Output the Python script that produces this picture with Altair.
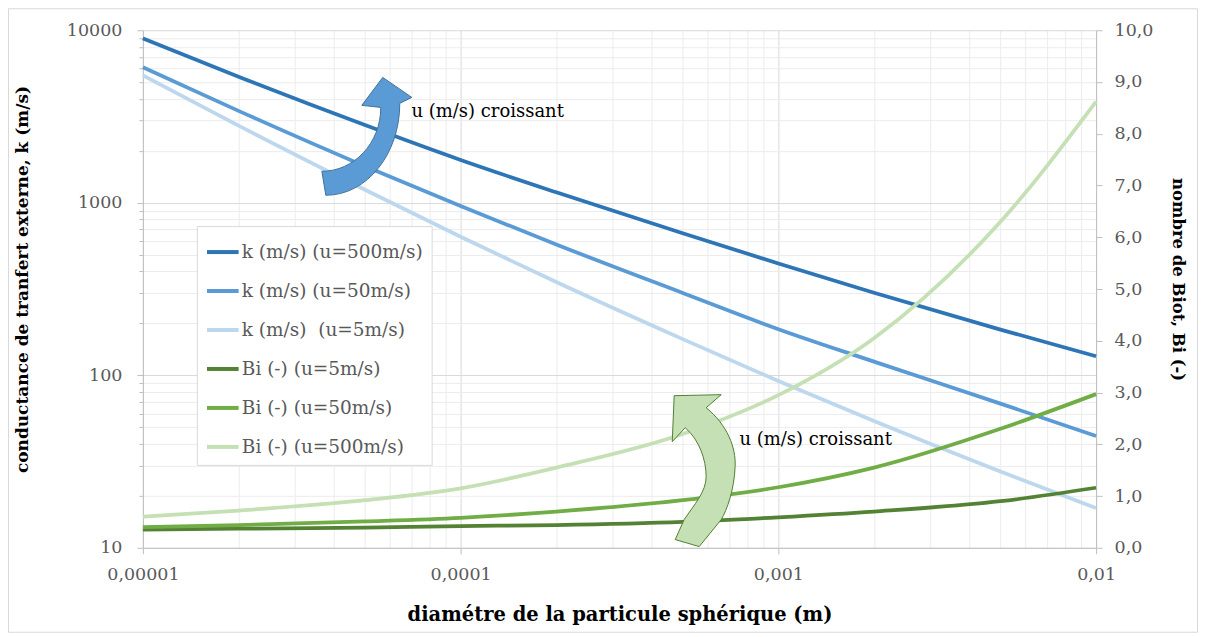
import altair as alt
import pandas as pd

# ---------------- data ----------------
diam = [1e-5, 2e-5, 5e-5, 1e-4, 2e-4, 5e-4, 1e-3, 2e-3, 5e-3, 1e-2]
k_u500 = [8970, 5380, 2820, 1770, 1150, 665, 445, 301, 184, 129]
k_u50 = [6100, 3410, 1630, 957, 573, 300, 185, 120, 68.5, 44.5]
k_u5 = [5480, 2800, 1190, 635, 347, 162, 92.7, 54.3, 27.7, 17.0]
bi_u5 = [0.35, 0.37, 0.39, 0.42, 0.44, 0.50, 0.59, 0.70, 0.90, 1.16]
bi_u50 = [0.40, 0.44, 0.51, 0.58, 0.70, 0.92, 1.17, 1.55, 2.30, 2.97]
bi_u500 = [0.60, 0.72, 0.92, 1.15, 1.55, 2.20, 2.95, 4.05, 6.30, 8.62]

k_names = ["k (m/s) (u=500m/s)", "k (m/s) (u=50m/s)", "k (m/s)\u00a0 (u=5m/s)"]
bi_names = ["Bi (-) (u=5m/s)", "Bi (-) (u=50m/s)", "Bi (-) (u=500m/s)"]
colors = ["#2e75b6", "#5b9bd5", "#bdd7ee", "#548235", "#70ad47", "#c5e0b4"]

x_major = [0.00001, 0.0001, 0.001, 0.01]
x_ticks = [float(f"{m}e{e}") for e in (-5, -4, -3) for m in range(1, 10)] + [0.01]
y_major = [10, 100, 1000, 10000]
y_ticks = [m * 10 ** e for e in (1, 2, 3) for m in range(1, 10)] + [10000]
bi_ticks = [0, 1, 2, 3, 4, 5, 6, 7, 8, 9, 10]

# annotation anchors (data coordinates: diameter, Biot scale)
ann_d = [7.0e-5, 7.54e-4]
ann_bi = [8.42, 2.08]
ann_text = ["u (m/s) croissant", "u (m/s) croissant"]
blue_arrow_d, blue_arrow_bi = [5.03e-5], [7.95]
green_arrow_d, green_arrow_bi = [5.8e-4], [1.51]

BLUE_ARROW = ("M -0.733 0.583 C -0.2 0.583 0.25 0.117 0.25 -0.483 L -0.067 -0.517 "
              "L 0.283 -0.983 L 0.767 -0.65 L 0.567 -0.55 C 0.567 0.3 0.017 0.983 -0.667 0.983 Z")
GREEN_ARROW = ("M -0.372 -0.949 L 0.231 -0.962 L 0.038 -0.795 C 0.308 -0.577 0.423 -0.282 0.41 -0.038 "
               "C 0.397 0.256 0.308 0.513 0.231 0.641 L -0.051 0.987 L -0.359 0.897 L -0.244 0.641 "
               "C -0.115 0.449 0.038 0.282 0.038 0.09 C 0.038 -0.128 -0.051 -0.385 -0.231 -0.538 "
               "L -0.397 -0.359 Z")

# ---------------- tables ----------------
k_df = pd.concat([
    pd.DataFrame({"d": diam, "k": vals, "series": name})
    for name, vals in zip(k_names, [k_u500, k_u50, k_u5])
])
bi_df = pd.concat([
    pd.DataFrame({"d": diam, "bi": vals, "series": name})
    for name, vals in zip(bi_names, [bi_u5, bi_u50, bi_u500])
])
ann_df = pd.DataFrame({"d": ann_d, "bi": ann_bi, "txt": ann_text})
blue_df = pd.DataFrame({"d": blue_arrow_d, "bi": blue_arrow_bi})
green_df = pd.DataFrame({"d": green_arrow_d, "bi": green_arrow_bi})

FONT = "DejaVu Serif"
LBL = "#595959"
W, H = 954, 518

x_major_js = "[" + ",".join(repr(v) for v in x_major) + "]"
y_major_js = "[" + ",".join(str(v) for v in y_major) + "]"

x_axis = alt.Axis(
    values=x_ticks,
    labelExpr=f"indexof({x_major_js}, datum.value) >= 0 ? replace(datum.value + '', '.', ',') : ''",
    grid=True,
    gridColor={"condition": {"test": f"indexof({x_major_js}, datum.value) >= 0", "value": "#d9d9d9"},
               "value": "#ececec"},
    tickSize={"condition": {"test": f"indexof({x_major_js}, datum.value) >= 0", "value": 6}, "value": 0},
    tickColor="#bfbfbf", domainColor="#bfbfbf",
    labelFont=FONT, labelFontSize=17.5, labelColor=LBL, labelPadding=12,
    labelFlush=False, labelOverlap=False,
    title="diamétre de la particule sphérique (m)",
    titleFont=FONT, titleFontSize=19.5, titleFontWeight="bold", titleColor="black",
    titleX=W / 2, titleY=67, titleBaseline="middle", titleAlign="center",
)
x_enc = alt.X("d:Q", scale=alt.Scale(type="log", domain=[1e-5, 1e-2], nice=False), axis=x_axis)

y_left_axis = alt.Axis(
    orient="left",
    values=y_ticks,
    labelExpr=f"indexof({y_major_js}, datum.value) >= 0 ? datum.value + '' : ''",
    grid=True,
    gridColor={"condition": {"test": f"indexof({y_major_js}, datum.value) >= 0", "value": "#d9d9d9"},
               "value": "#ececec"},
    tickSize={"condition": {"test": f"indexof({y_major_js}, datum.value) >= 0", "value": 6}, "value": 4},
    tickColor="#bfbfbf", domainColor="#bfbfbf",
    labelFont=FONT, labelFontSize=17.5, labelColor=LBL, labelPadding=15,
    labelFlush=False, labelOverlap=False,
    title="conductance de tranfert externe, k (m/s)",
    titleFont=FONT, titleFontSize=17, titleFontWeight="bold", titleColor="black",
    titleX=-120, titleY=249, titleAngle=270, titleBaseline="middle", titleAlign="center",
)

y_right_axis = alt.Axis(
    orient="right",
    values=bi_ticks,
    labelExpr="replace(format(datum.value, '.1f'), '.', ',')",
    grid=False,
    tickSize=6, tickColor="#bfbfbf", domainColor="#bfbfbf",
    labelFont=FONT, labelFontSize=17.5, labelColor=LBL, labelPadding=12,
    labelFlush=False, labelOverlap=False,
    title="nombre de Biot, Bi (-)",
    titleFont=FONT, titleFontSize=16.5, titleFontWeight="bold", titleColor="black",
    titleX=81, titleY=249, titleAngle=90, titleBaseline="middle", titleAlign="center",
)

color_scale = alt.Scale(domain=k_names + bi_names, range=colors)
legend = alt.Legend(
    orient="none", legendX=54, legendY=196, title=None,
    fillColor="white", strokeColor="#d9d9d9", padding=8, rowPadding=11,
    symbolType="stroke", symbolSize=1000, symbolStrokeWidth=4, symbolOpacity=1,
    labelFont=FONT, labelFontSize=18.5, labelColor=LBL, labelOffset=1, labelLimit=400,
)

k_lines = alt.Chart(k_df).mark_line(strokeWidth=3.75, interpolate="monotone").encode(
    x=x_enc,
    y=alt.Y("k:Q", scale=alt.Scale(type="log", domain=[10, 10000], nice=False), axis=y_left_axis),
    color=alt.Color("series:N", scale=color_scale, legend=legend, sort=k_names + bi_names),
    detail="series:N",
)

y_right = alt.Y("bi:Q", scale=alt.Scale(domain=[0, 10], nice=False), axis=y_right_axis)

bi_lines = alt.Chart(bi_df).mark_line(strokeWidth=3.75, interpolate="monotone").encode(
    x=x_enc, y=y_right,
    color=alt.Color("series:N", scale=color_scale, legend=legend, sort=k_names + bi_names),
    detail="series:N",
)

blue_arrow = alt.Chart(blue_df).mark_point(
    shape=BLUE_ARROW, size=120 * 120, filled=True, fill="#5b9bd5", stroke="#41719c",
    strokeWidth=1, opacity=1, fillOpacity=1,
).encode(x=x_enc, y=y_right)

green_arrow = alt.Chart(green_df).mark_point(
    shape=GREEN_ARROW, size=156 * 156, filled=True, fill="#c5e0b4", stroke="#507e32",
    strokeWidth=1, opacity=1, fillOpacity=1,
).encode(x=x_enc, y=y_right)

texts = alt.Chart(ann_df).mark_text(
    font=FONT, fontSize=18, color="black", align="left", baseline="middle",
).encode(x=x_enc, y=y_right, text="txt:N")

border = alt.Chart(pd.DataFrame({"one": [1]})).mark_rect(
    fillOpacity=0, stroke="#d9d9d9", strokeWidth=1,
).encode(
    x=alt.value(-134.5), x2=alt.value(W + 101.5),
    y=alt.value(-21.5), y2=alt.value(H + 84.5),
)

right = alt.layer(bi_lines, blue_arrow, green_arrow, texts)

chart = alt.layer(k_lines, right, border).resolve_scale(y="independent").properties(
    width=W, height=H,
    autosize=alt.AutoSizeParams(type="none"),
    padding={"left": 135, "top": 22, "right": 102, "bottom": 85},
    background="white",
).configure_view(stroke=None)

chart.save("out.html", embed_options={"renderer": "svg", "actions": False})
